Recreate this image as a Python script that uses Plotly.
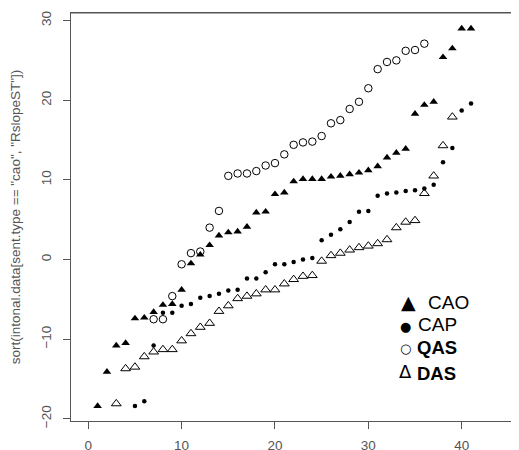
import plotly.graph_objects as go

# Sorted values per sentence type (index 1..n); None = below the visible range
cao = [-18.4, -14.1, -10.8, -10.5, -7.4, -7.3, -6.6, -5.7, -5.6, -3.8,
       -0.5, 0.6, 1.8, 3.0, 3.4, 3.5, 4.1, 5.9, 6.0, 8.2,
       8.4, 9.8, 10.1, 10.1, 10.1, 10.4, 10.5, 10.7, 10.9, 11.2,
       11.7, 12.8, 13.4, 13.9, 18.3, 19.4, 19.8, 25.4, 26.5, 29.0, 29.0]
cap = [None, None, None, None, -18.4, -17.8, -10.8, -6.7, -6.7, -5.8,
       -5.6, -4.8, -4.6, -4.3, -3.9, -3.8, -2.4, -2.4, -1.6, -0.6,
       -0.6, -0.3, 0.0, 0.2, 2.4, 3.1, 3.8, 4.7, 6.0, 6.1,
       8.0, 8.3, 8.4, 8.6, 8.7, 8.9, 9.4, 12.2, 14.0, 18.7, 19.6]
qas = [None, None, None, None, None, None, -7.5, -7.5, -4.6, -0.6,
       0.8, 1.0, 4.0, 6.1, 10.5, 10.8, 10.8, 11.1, 11.8, 12.1,
       13.2, 14.4, 14.7, 14.8, 15.5, 17.1, 17.5, 18.9, 19.8, 21.5,
       23.9, 24.8, 25.0, 26.2, 26.3, 27.1]
das = [None, None, -18.1, -13.7, -13.5, -12.2, -11.6, -11.3, -11.3, -10.2,
       -9.3, -8.5, -8.0, -6.5, -5.8, -4.9, -4.6, -4.3, -3.8, -3.8,
       -3.05, -2.5, -2.1, -2.0, -0.2, 0.5, 0.8, 1.2, 1.5, 1.7,
       2.0, 2.5, 4.0, 4.7, 4.9, 8.3, 10.5, 14.3, 17.9]

x_ticks = [0, 10, 20, 30, 40]
y_ticks = [-20, -10, 0, 10, 20, 30]
y_title = 'sort(intonal.data[sent.type == "cao", "RslopeST"])'
legend_labels = ["CAO", "CAP", "<b>QAS</b>", "<b>DAS</b>"]
legend_glyphs = ["\u25B2", "\u25CF", "\u25CB", "\u0394"]


def idx(v):
    return list(range(1, len(v) + 1))


fig = go.Figure()
fig.add_trace(go.Scatter(x=idx(cao), y=cao, mode="markers", name="CAO",
                         marker=dict(symbol="triangle-up", size=7.5, color="black",
                                     line=dict(width=0))))
fig.add_trace(go.Scatter(x=idx(cap), y=cap, mode="markers", name="CAP",
                         marker=dict(symbol="circle", size=4.5, color="black",
                                     line=dict(width=0))))
fig.add_trace(go.Scatter(x=idx(qas), y=qas, mode="markers", name="QAS",
                         marker=dict(symbol="circle-open", size=7.5, color="black",
                                     line=dict(width=1))))
fig.add_trace(go.Scatter(x=idx(das), y=das, mode="markers", name="DAS",
                         marker=dict(symbol="triangle-up-open", size=8.5, color="black",
                                     line=dict(width=1))))

axis_col = "#555555"
txt_col = "#555555"
font = dict(family="Liberation Sans, Arial, sans-serif", size=13.5, color=txt_col)

# the page body adds an 8px offset, so the figure is 8px smaller than the window
fig.update_layout(
    width=511, height=442,
    margin=dict(l=63, r=0, t=5, b=29),
    paper_bgcolor="white", plot_bgcolor="white",
    showlegend=False,
    font=font,
    xaxis=dict(range=[-1.85, 46.14], tickvals=x_ticks, ticks="outside", ticklen=7,
               tickcolor=axis_col, showline=True, linecolor=axis_col, linewidth=1,
               mirror=True, showgrid=False, zeroline=False, tickfont=font,
               ticklabelstandoff=5, automargin=False),
    yaxis=dict(range=[-20.28, 30.95], tickvals=y_ticks, ticks="outside", ticklen=7,
               tickcolor=axis_col, showline=True, linecolor=axis_col, linewidth=1,
               mirror=False, showgrid=False, zeroline=False, tickfont=font,
               tickangle=-90, ticklabelstandoff=7, automargin=False,
               title=dict(text=y_title, font=font, standoff=14)),
)

# top border of the plot box (the right side is cropped in the reference)
fig.add_shape(type="line", xref="paper", yref="paper", x0=0, x1=1, y0=1, y1=1,
              line=dict(color=axis_col, width=1.2), layer="above")

# legend drawn as text glyphs (as in the reference)
sym_pos = [(34.34, -5.36, 19), (34.0, -8.4, 13), (34.0, -11.2, 13), (34.0, -14.1, 18)]
lab_pos = [(36.2, -5.36, 19), (35.15, -8.18, 19), (35.0, -11.1, 18.5), (34.95, -14.35, 18.5)]
for g, (sx, sy, ss), lab, (lx, ly, ls) in zip(legend_glyphs, sym_pos, legend_labels, lab_pos):
    fig.add_annotation(x=sx, y=sy, xref="x", yref="y", text=g, showarrow=False,
                       xanchor="center", yanchor="middle",
                       font=dict(family="DejaVu Sans, Liberation Sans", size=ss, color="black"))
    fig.add_annotation(x=lx, y=ly, xref="x", yref="y", text=lab, showarrow=False,
                       xanchor="left", yanchor="middle",
                       font=dict(family="Liberation Sans, Arial, sans-serif", size=ls, color="black"))

fig.write_html("out.html")
